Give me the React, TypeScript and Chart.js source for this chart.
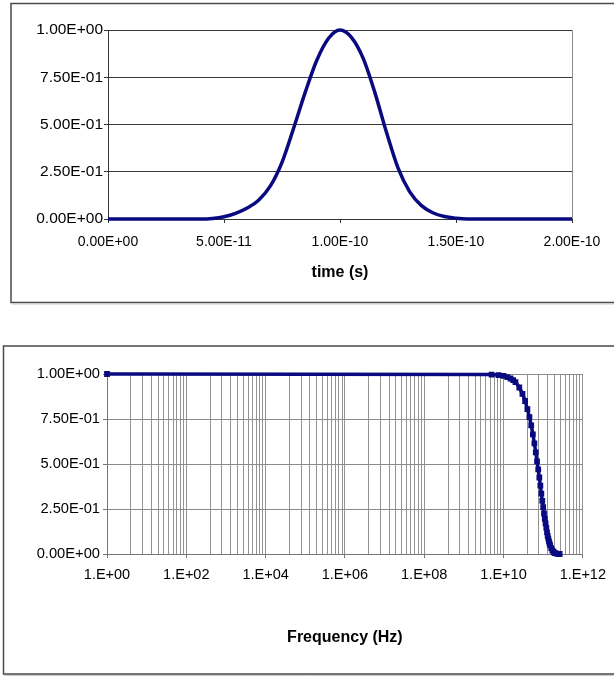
import React, { useEffect, useRef } from 'react';
import { Chart, registerables } from 'chart.js';

Chart.register(...registerables);

// ---------- Data ----------
const timeSeconds = [
  0, 4.0e-11, 4.5e-11, 5.0e-11, 5.5e-11, 6.0e-11, 6.5e-11, 7.0e-11, 7.5e-11, 8.0e-11,
  8.5e-11, 9.0e-11, 9.5e-11, 1.0e-10, 1.05e-10, 1.1e-10, 1.15e-10, 1.2e-10, 1.25e-10,
  1.3e-10, 1.35e-10, 1.4e-10, 1.45e-10, 1.5e-10, 1.55e-10, 2.0e-10,
];
const pulseAmplitude = [
  0, 0, 0.003, 0.012, 0.03, 0.058, 0.1, 0.175, 0.3, 0.48,
  0.67, 0.84, 0.955, 1.0, 0.96, 0.85, 0.67, 0.46, 0.27,
  0.145, 0.072, 0.033, 0.013, 0.004, 0, 0,
];
const timeTicks = [0, 5e-11, 1e-10, 1.5e-10, 2e-10];
const amplitudeTicks = [0, 0.25, 0.5, 0.75, 1];

const freqHz = [
  1, 5e9, 7.5e9, 1e10, 1.25e10, 1.5e10, 1.75e10, 2e10, 2.5e10, 3e10, 3.5e10, 4e10, 4.5e10,
  5e10, 5.5e10, 6e10, 6.5e10, 7e10, 7.5e10, 8e10, 8.5e10, 9e10, 9.5e10, 1e11, 1.05e11,
  1.1e11, 1.15e11, 1.2e11, 1.25e11, 1.3e11, 1.35e11, 1.4e11, 1.45e11, 1.5e11, 1.6e11,
  1.7e11, 1.8e11, 1.9e11, 2e11, 2.2e11, 2.4e11, 2.6e11,
];
const freqResponse = [
  1, 0.997, 0.994, 0.99, 0.983, 0.975, 0.966, 0.955, 0.925, 0.89, 0.85, 0.805, 0.76,
  0.715, 0.665, 0.615, 0.565, 0.515, 0.47, 0.425, 0.38, 0.335, 0.295, 0.26, 0.225,
  0.195, 0.17, 0.145, 0.12, 0.1, 0.085, 0.07, 0.058, 0.048, 0.032,
  0.02, 0.013, 0.008, 0.005, 0.002, 0.001, 0,
];
const freqMajorExponents = [0, 2, 4, 6, 8, 10, 12];
const freqMinorMultipliers = [4, 7.84, 12.96, 19.36, 27.04, 36, 46.24, 57.76, 70.56, 84.64];

// ---------- Styling ----------
const FONT = '"Liberation Sans", Arial, sans-serif';
const NAVY = '#0a0a80';

function fmtSci(v: number): string {
  const s = v.toExponential(2);
  const [m, e] = s.split('e');
  const n = parseInt(e, 10);
  return m + 'E' + (n < 0 ? '-' : '+') + String(Math.abs(n)).padStart(2, '0');
}

function isMajorFreq(v: number): boolean {
  const e = Math.log10(v);
  const r = Math.round(e);
  return Math.abs(e - r) < 1e-6 && r % 2 === 0;
}

function boxPlugin(left: number, top: number, bottom: number, rightEdgeGrey: boolean) {
  return {
    id: 'boxBorder' + top,
    afterDraw(chart: any) {
      const ctx = chart.ctx;
      const ca = chart.chartArea;
      ctx.save();
      if (rightEdgeGrey) {
        ctx.strokeStyle = '#8c8c8c';
        ctx.lineWidth = 1;
        ctx.beginPath();
        ctx.moveTo(Math.round(ca.right) + 0.5, ca.top);
        ctx.lineTo(Math.round(ca.right) + 0.5, ca.bottom);
        ctx.stroke();
      }
      ctx.strokeStyle = '#4a4a4a';
      ctx.lineWidth = 1.5;
      ctx.beginPath();
      ctx.moveTo(chart.width + 10, top);
      ctx.lineTo(left, top);
      ctx.lineTo(left, bottom);
      ctx.lineTo(chart.width + 10, bottom);
      ctx.stroke();
      ctx.strokeStyle = '#c8c8c8';
      ctx.lineWidth = 1;
      ctx.beginPath();
      ctx.moveTo(left + 1, bottom + 1.5);
      ctx.lineTo(chart.width + 10, bottom + 1.5);
      ctx.stroke();
      ctx.restore();
    },
  };
}

function PulseChart() {
  const ref = useRef<HTMLCanvasElement>(null);
  useEffect(() => {
    if (!ref.current) return;
    const chart = new Chart(ref.current, {
      type: 'scatter',
      data: {
        datasets: [
          {
            data: timeSeconds.map((x, i) => ({ x, y: pulseAmplitude[i] })),
            showLine: true,
            borderColor: NAVY,
            backgroundColor: NAVY,
            borderWidth: 3.5,
            pointRadius: 0,
            cubicInterpolationMode: 'monotone',
            clip: 6,
          } as any,
        ],
      },
      options: {
        animation: false,
        responsive: false,
        devicePixelRatio: 1,
        layout: { padding: { top: 30, right: 42, left: 0, bottom: 0 } },
        plugins: { legend: { display: false }, tooltip: { enabled: false } },
        scales: {
          x: {
            type: 'linear',
            min: 0,
            max: 2e-10,
            afterBuildTicks: (s: any) => {
              s.ticks = timeTicks.map((v) => ({ value: v }));
            },
            afterFit: (s: any) => {
              s.height = 101;
            },
            ticks: {
              callback: (v: any) => fmtSci(Number(v)),
              font: { family: FONT, size: 14 },
              color: '#000',
              padding: 11,
              maxRotation: 0,
              autoSkip: false,
            },
            grid: { drawOnChartArea: false, drawTicks: true, tickLength: 4, tickColor: '#333' },
            border: { color: '#333', width: 1 },
            title: {
              display: true,
              text: 'time (s)',
              font: { family: FONT, size: 16, weight: 'bold' },
              color: '#000',
              padding: { top: 0, bottom: 38 },
            },
          },
          y: {
            type: 'linear',
            min: 0,
            max: 1,
            afterBuildTicks: (s: any) => {
              s.ticks = amplitudeTicks.map((v) => ({ value: v }));
            },
            afterFit: (s: any) => {
              s.width = 108;
            },
            ticks: {
              callback: (v: any) => fmtSci(Number(v)),
              font: { family: FONT, size: 15.5 },
              color: '#000',
              padding: 1,
            },
            grid: { color: '#3a3a3a', tickLength: 4, tickColor: '#333' },
            border: { color: '#333', width: 1 },
          },
        },
      } as any,
      plugins: [boxPlugin(11, 3.5, 302.5, true)],
    });
    return () => chart.destroy();
  }, []);
  return <canvas ref={ref} width={614} height={320} style={{ display: 'block' }} />;
}

function FrequencyChart() {
  const ref = useRef<HTMLCanvasElement>(null);
  useEffect(() => {
    if (!ref.current) return;
    const chart = new Chart(ref.current, {
      type: 'scatter',
      data: {
        datasets: [
          {
            data: freqHz.map((x, i) => ({ x, y: freqResponse[i] })),
            showLine: true,
            borderColor: NAVY,
            backgroundColor: NAVY,
            borderWidth: 3.5,
            pointRadius: 1.6,
            pointStyle: 'rect',
            cubicInterpolationMode: 'monotone',
            clip: 6,
          } as any,
        ],
      },
      options: {
        animation: false,
        responsive: false,
        devicePixelRatio: 1,
        layout: { padding: { top: 54, right: 25, left: 0, bottom: 0 } },
        plugins: { legend: { display: false }, tooltip: { enabled: false } },
        scales: {
          x: {
            type: 'logarithmic',
            min: 1,
            max: 1e12,
            afterBuildTicks: (s: any) => {
              const t: any[] = [];
              freqMajorExponents.forEach((e, i) => {
                const base = Math.pow(10, e);
                t.push({ value: base });
                if (i < freqMajorExponents.length - 1) {
                  freqMinorMultipliers.forEach((m) => t.push({ value: base * m }));
                }
              });
              s.ticks = t;
            },
            afterFit: (s: any) => {
              s.height = 122;
            },
            ticks: {
              callback: (v: any) => {
                const n = Number(v);
                if (!isMajorFreq(n)) return '';
                const e = Math.round(Math.log10(n));
                return '1.E+' + String(e).padStart(2, '0');
              },
              font: { family: FONT, size: 14.5 },
              color: '#000',
              padding: 8,
              maxRotation: 0,
              minRotation: 0,
              autoSkip: false,
            },
            grid: {
              color: '#939393',
              tickLength: 4,
              tickColor: (ctx: any) => (ctx.tick && isMajorFreq(ctx.tick.value) ? '#777' : 'rgba(0,0,0,0)'),
            },
            border: { color: '#777', width: 1 },
            title: {
              display: true,
              text: 'Frequency (Hz)',
              font: { family: FONT, size: 16, weight: 'bold' },
              color: '#000',
              padding: { top: 0, bottom: 29 },
            },
          },
          y: {
            type: 'linear',
            min: 0,
            max: 1,
            afterBuildTicks: (s: any) => {
              s.ticks = amplitudeTicks.map((v) => ({ value: v }));
            },
            afterFit: (s: any) => {
              s.width = 107;
            },
            ticks: {
              callback: (v: any) => fmtSci(Number(v)),
              font: { family: FONT, size: 14.7 },
              color: '#000',
              padding: 3,
            },
            grid: { color: '#8a8a8a', tickLength: 4, tickColor: '#777' },
            border: { color: '#777', width: 1 },
          },
        },
      } as any,
      plugins: [boxPlugin(3.5, 26, 354, false)],
    });
    return () => chart.destroy();
  }, []);
  return <canvas ref={ref} width={614} height={356} style={{ display: 'block' }} />;
}

export default function App() {
  return (
    <div
      style={{
        position: 'fixed',
        left: 0,
        top: 0,
        width: 614,
        height: 676,
        overflow: 'hidden',
        background: '#fff',
      }}
    >
      <PulseChart />
      <FrequencyChart />
    </div>
  );
}
